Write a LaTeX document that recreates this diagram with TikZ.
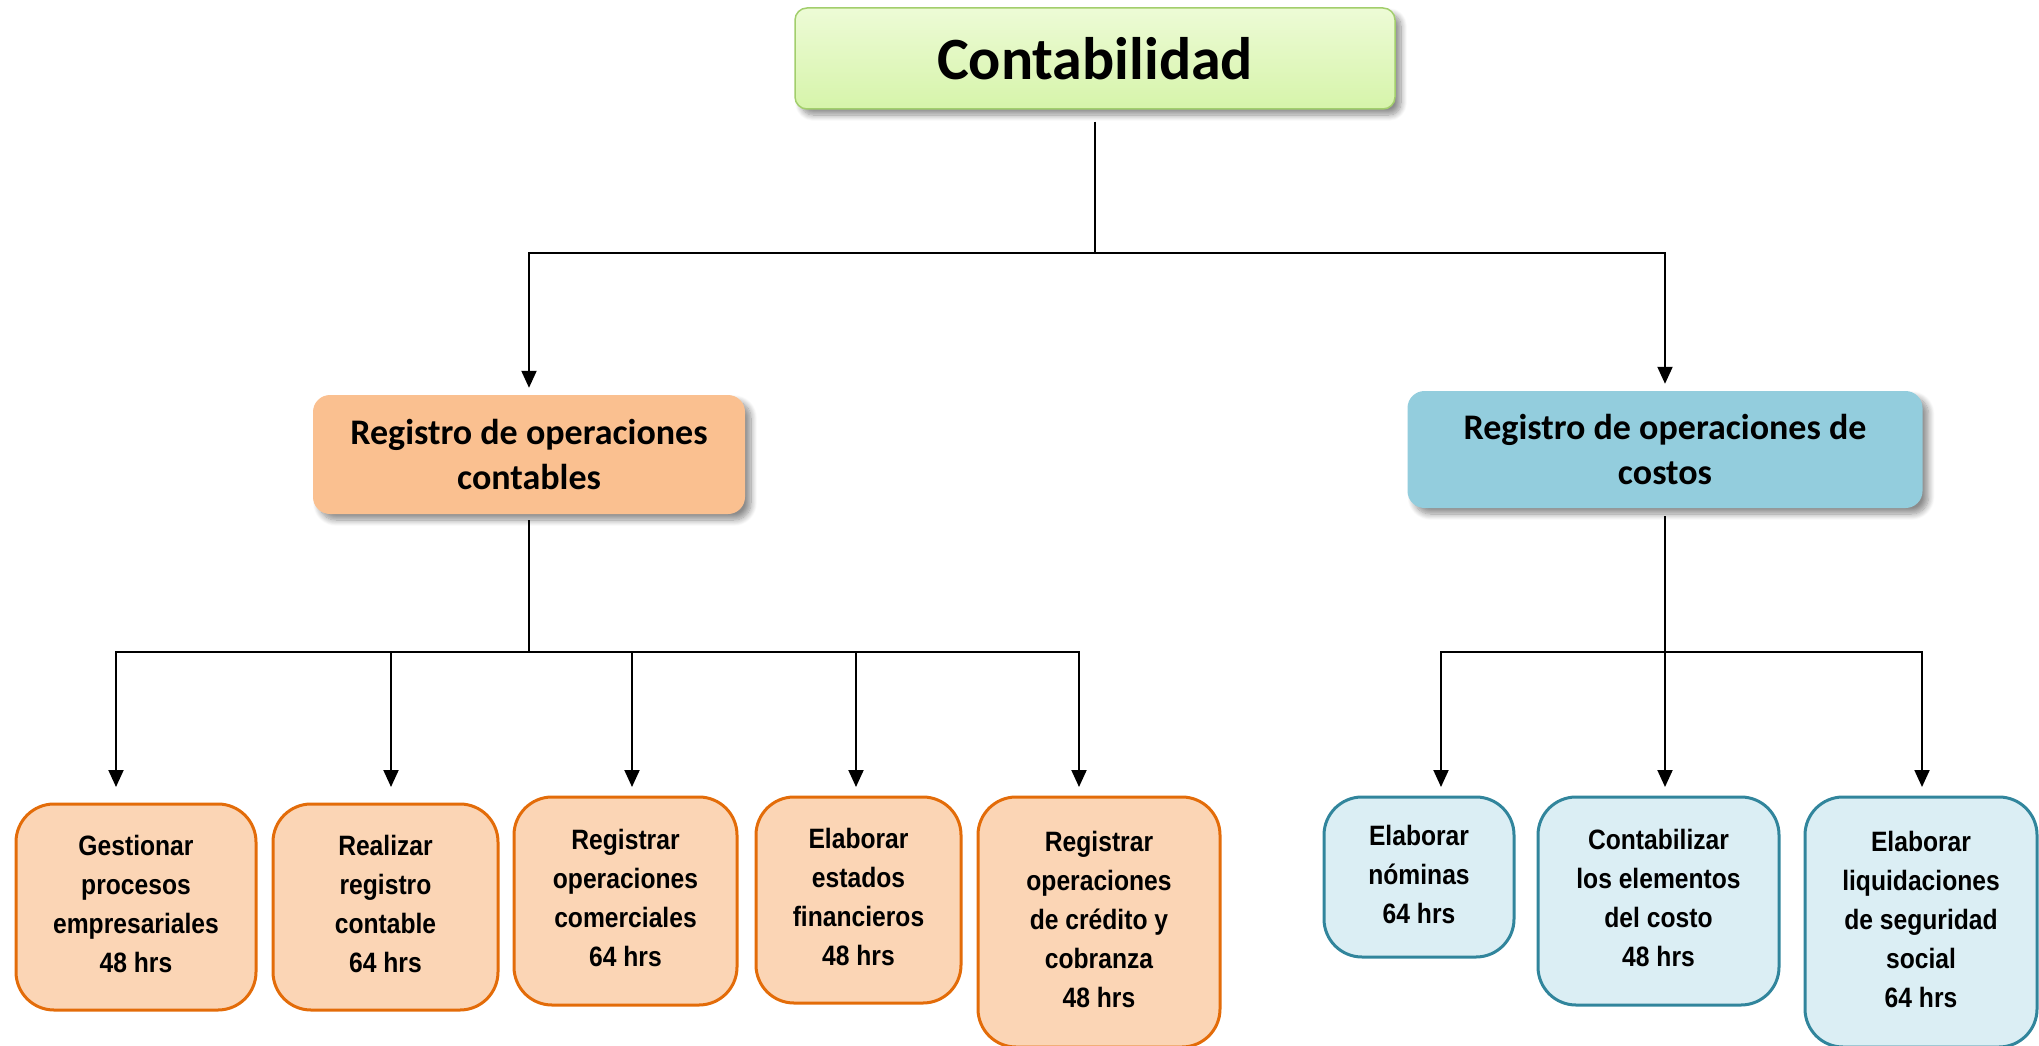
\documentclass[tikz,border=0pt]{standalone}
\usepackage{fontspec}
\setmainfont{Carlito}
\newfontfamily\narrowsans[FakeStretch=0.88]{Liberation Sans}
\usetikzlibrary{arrows.meta,shadows.blur,calc}
\definecolor{topA}{HTML}{EDFBD6}
\definecolor{topB}{HTML}{D6F4AA}
\definecolor{topBorder}{HTML}{A2CE6C}
\definecolor{midOr}{HTML}{FAC090}
\definecolor{midBl}{HTML}{93CDDD}
\definecolor{orFill}{HTML}{FBD5B5}
\definecolor{orBorder}{HTML}{E36C09}
\definecolor{blFill}{HTML}{DBEEF4}
\definecolor{blBorder}{HTML}{31859C}
\begin{document}
\begin{tikzpicture}[x=1pt,y=-1pt,
  conn/.style={line width=2pt, draw=black},
  arr/.style={conn, -{Triangle[length=17pt,width=15pt]}},
  boxshadow/.style={blur shadow={shadow xshift=6pt, shadow yshift=-6pt, shadow blur steps=10, shadow blur radius=6pt, shadow opacity=45}},
  topbox/.style={draw=topBorder, line width=1.5pt, rounded corners=12pt,
    top color=topA, bottom color=topB, inner sep=0pt, boxshadow,
    minimum width=600pt, minimum height=101pt,
    font=\bfseries\fontsize{60}{72}\selectfont},
  midbox/.style={rounded corners=17pt, inner sep=0pt, boxshadow, align=center,
    font=\bfseries\fontsize{36}{45}\selectfont},
  orbox/.style={draw=orBorder, fill=orFill, line width=3pt, rounded corners=38pt,
    align=center, inner sep=0pt,
    font=\narrowsans\bfseries\fontsize{28}{39}\selectfont},
  blbox/.style={orbox, draw=blBorder, fill=blFill}
]
\clip (0,0) rectangle (2039,1046);

% top
\node[topbox] (top) at (1095,58.5) {Contabilidad};

% middle level
\node[midbox, fill=midOr, minimum width=432pt, minimum height=119pt] (midL) at (529,454.5)
  {Registro de operaciones\\contables};
\node[midbox, fill=midBl, minimum width=515pt, minimum height=117pt] (midR) at (1665,449.5)
  {Registro de operaciones de\\costos};

% bottom level, left branch
\node[orbox, minimum width=240pt, minimum height=206pt] (b1) at (136,907)
  {Gestionar\\procesos\\empresariales\\48 hrs\vphantom{p}};
\node[orbox, minimum width=225pt, minimum height=206pt] (b2) at (385.5,907)
  {Realizar\\registro\\contable\\64 hrs\vphantom{p}};
\node[orbox, minimum width=223pt, minimum height=208pt] (b3) at (625.5,901)
  {Registrar\\operaciones\\comerciales\\64 hrs\vphantom{p}};
\node[orbox, minimum width=205pt, minimum height=206pt] (b4) at (858.5,900)
  {Elaborar\\estados\\financieros\\48 hrs\vphantom{p}};
\node[orbox, minimum width=242pt, minimum height=250pt] (b5) at (1099,922)
  {Registrar\\operaciones\\de crédito y\\cobranza\\48 hrs\vphantom{p}};

% bottom level, right branch
\node[blbox, minimum width=190pt, minimum height=160pt] (b6) at (1419,877)
  {Elaborar\\nóminas\\64 hrs\vphantom{p}};
\node[blbox, minimum width=241pt, minimum height=208pt] (b7) at (1658.5,901)
  {Contabilizar\\los elementos\\del costo\\48 hrs\vphantom{p}};
\node[blbox, minimum width=232pt, minimum height=250pt] (b8) at (1921,922)
  {Elaborar\\liquidaciones\\de seguridad\\social\\64 hrs\vphantom{p}};

% connector points
\path (top.south) ++(0,143) coordinate (jT);
\path (midL.south) ++(0,138) coordinate (jL);
\path (midR.south) ++(0,144) coordinate (jR);
\coordinate (t1) at (116,787);
\coordinate (t2) at (391,787);
\coordinate (t3) at (632,787);
\coordinate (t4) at (856,787);
\coordinate (t5) at (1079,787);
\coordinate (t6) at (1441,787);
\coordinate (t7) at (1665,787);
\coordinate (t8) at (1922,787);

% connectors
\draw[conn] ([yshift=-12pt]top.south) -- (jT);
\draw[arr, shorten >=7pt] (jT) -| (midL.north);
\draw[arr, shorten >=7pt] (jT) -| (midR.north);

\draw[conn] ([yshift=-6pt]midL.south) -- (jL);
\foreach \t in {t1,t2,t3,t4,t5}{\draw[arr] (jL) -| (\t);}

\draw[conn] ([yshift=-8pt]midR.south) -- (jR);
\foreach \t in {t6,t7,t8}{\draw[arr] (jR) -| (\t);}
\end{tikzpicture}
\end{document}
